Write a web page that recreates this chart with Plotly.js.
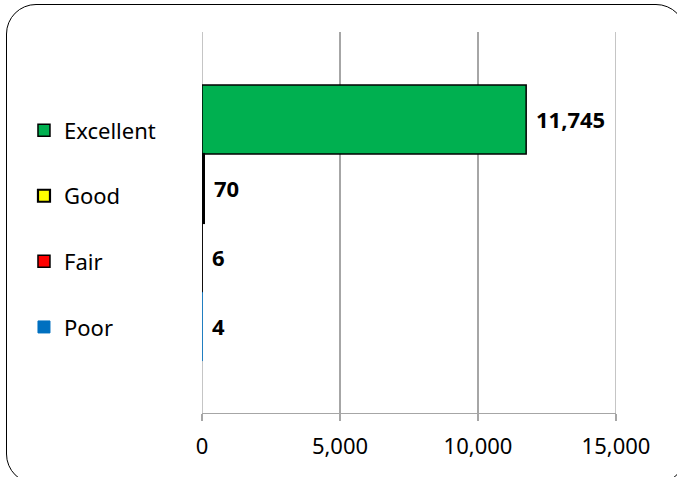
<!DOCTYPE html>
<html>
<head>
<meta charset="utf-8">
<script src="https://cdn.plot.ly/plotly-3.0.1.min.js"></script>
<style>
html,body{margin:0;padding:0;background:#fff;overflow:hidden;}
#wrap{position:relative;width:677px;height:477px;overflow:hidden;}
#chart{width:677px;height:477px;}
#frame{position:absolute;left:6px;top:4px;width:678px;height:478px;border:1.8px solid #000;border-radius:30px;pointer-events:none;}
</style>
</head>
<body>
<div id="wrap"><div id="chart"></div><div id="frame"></div></div>
<script>
const categories = ["Excellent", "Good", "Fair", "Poor"];
const values = [11745, 70, 6, 4];
const valueLabels = ["11,745", "70", "6", "4"];
const colors = ["#00b050", "#ffff00", "#ff0000", "#0070c0"];
const outlineColors = ["#000000", "#000000", "#000000", "#0070c0"];
const outlineWidths = [1.5, 2.2, 1.5, 1];
const xTicks = [0, 5000, 10000, 15000];

const FONT = "Noto Sans, Open Sans, sans-serif";
const GRID = "#a6a6a6";

const traces = categories.map((c, i) => ({
  type: "bar",
  orientation: "h",
  name: c,
  x: [values[i]],
  y: [c],
  width: 1,
  legendgroup: c,
  marker: {color: colors[i], line: {color: outlineColors[i], width: outlineWidths[i]}},
  hoverinfo: "x+name"
}));

const annotations = categories.map((c, i) => ({
  x: values[i], y: c, xref: "x", yref: "y",
  text: "<b>" + valueLabels[i] + "</b>",
  showarrow: false, xanchor: "left", yanchor: "middle",
  xshift: 8,
  font: {family: FONT, size: 22, color: "#000"}
}));

// gridlines at the range edges (Plotly omits them at the plot-area boundary)
const edgeGrid = [xTicks[0], xTicks[xTicks.length - 1]].map(v => ({
  type: "line", xref: "x", yref: "paper", x0: v, x1: v, y0: 0, y1: 1,
  line: {color: GRID, width: 1.3}, layer: "below"
}));

const layout = {
  width: 677, height: 477,
  margin: {l: 202, r: 61, t: 32, b: 64},
  paper_bgcolor: "#fff", plot_bgcolor: "#fff",
  barmode: "overlay",
  showlegend: true,
  legend: {
    x: -0.43, xanchor: "left", y: 0.797, yanchor: "top",
    traceorder: "grouped", tracegroupgap: 34,
    font: {family: FONT, size: 22, color: "#000"},
    bgcolor: "rgba(0,0,0,0)", itemwidth: 30
  },
  xaxis: {
    range: [0, 15000], tickvals: xTicks, tickformat: ",d",
    showgrid: true, gridcolor: GRID, gridwidth: 1.3,
    zeroline: false, showline: true, linecolor: GRID, linewidth: 1.3,
    ticks: "outside", ticklen: 7, tickcolor: GRID, tickwidth: 1.3,
    ticklabelstandoff: 6,
    tickfont: {family: FONT, size: 22, color: "#000"},
    fixedrange: true
  },
  yaxis: {
    type: "category", categoryorder: "array", categoryarray: categories,
    range: [4.254, -1.268],
    showticklabels: false, showgrid: false, zeroline: false, showline: false,
    fixedrange: true
  },
  shapes: edgeGrid,
  annotations: annotations
};

Plotly.newPlot("chart", traces, layout, {displayModeBar: false, staticPlot: true});
</script>
</body>
</html>
